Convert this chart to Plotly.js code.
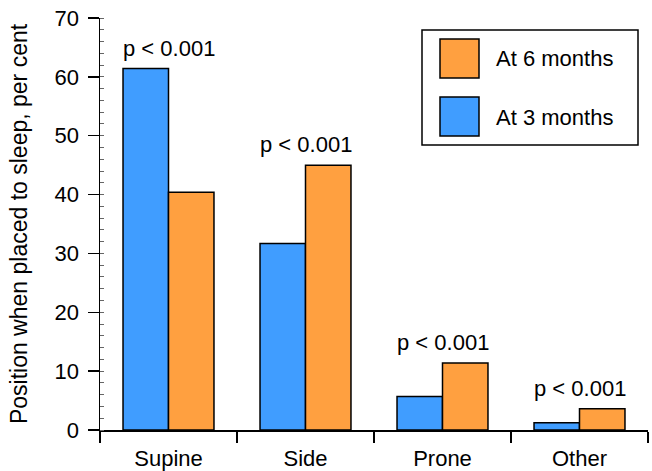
<!DOCTYPE html>
<html>
<head>
<meta charset="utf-8">
<script src="https://cdn.plot.ly/plotly-3.0.1.min.js"></script>
<style>html,body{margin:0;padding:0;background:#fff;}#chart{width:652px;height:471px;}</style>
</head>
<body>
<div id="chart"></div>
<script>
const categories = ["Supine", "Side", "Prone", "Other"];
const at3Months = [61.4, 31.7, 5.7, 1.25];
const at6Months = [40.4, 45.0, 11.4, 3.6];
const pLabels = ["p < 0.001", "p < 0.001", "p < 0.001", "p < 0.001"];
const seriesNames = ["At 3 months", "At 6 months"];
const yTicks = [0, 10, 20, 30, 40, 50, 60, 70];

const BLUE = "rgb(64,157,255)";
const ORANGE = "rgb(255,160,64)";
const FONT = "Liberation Sans, Arial, sans-serif";

const traces = [
  {type: "bar", name: seriesNames[0], x: categories, y: at3Months,
   marker: {color: BLUE, line: {color: "#000", width: 1.5}}, showlegend: false},
  {type: "bar", name: seriesNames[1], x: categories, y: at6Months,
   marker: {color: ORANGE, line: {color: "#000", width: 1.5}}, showlegend: false}
];

const annotations = categories.map((c, i) => ({
  x: c, y: Math.max(at3Months[i], at6Months[i]), xref: "x", yref: "y",
  text: pLabels[i], showarrow: false, yanchor: "bottom", yshift: 6,
  font: {family: FONT, size: 22, color: "#000"}
}));

// manual legend (paper coordinates)
const legendItems = [
  {name: seriesNames[1], color: ORANGE},
  {name: seriesNames[0], color: BLUE}
];
const shapes = [{
  type: "rect", xref: "paper", yref: "paper",
  x0: (422 - 100) / 548, x1: (638 - 100) / 548,
  y0: (430 - 145) / 412, y1: (430 - 30) / 412,
  line: {color: "#000", width: 1.5}, fillcolor: "rgba(0,0,0,0)"
}];
legendItems.forEach((it, k) => {
  const top = 39 + k * 58;
  shapes.push({
    type: "rect", xref: "paper", yref: "paper",
    x0: (440 - 100) / 548, x1: (479 - 100) / 548,
    y0: (430 - (top + 39)) / 412, y1: (430 - top) / 412,
    line: {color: "#000", width: 1.5}, fillcolor: it.color
  });
  annotations.push({
    xref: "paper", yref: "paper", x: (494 - 100) / 548, y: (430 - (top + 20)) / 412,
    xanchor: "left", yanchor: "middle", showarrow: false, text: it.name,
    font: {family: FONT, size: 22, color: "#000"}
  });
});

const layout = {
  width: 652, height: 471,
  margin: {l: 100, r: 4, t: 18, b: 41, pad: 0},
  paper_bgcolor: "#fff", plot_bgcolor: "#fff",
  font: {family: FONT, size: 22, color: "#000"},
  barmode: "group", bargap: 0.336, bargroupgap: 0,
  xaxis: {
    type: "category", range: [-0.5, 3.5], showgrid: false, zeroline: false,
    showline: true, linecolor: "#000", linewidth: 1.5,
    ticks: "outside", tickson: "boundaries", ticklen: 11, tickwidth: 1.5, tickcolor: "#000",
    ticklabelstandoff: 8,
    tickfont: {family: FONT, size: 22, color: "#000"}
  },
  yaxis: {
    range: [0, 70], showgrid: false, zeroline: false,
    showline: true, linecolor: "#000", linewidth: 1.5,
    tickvals: yTicks, ticks: "outside", ticklen: 11, tickwidth: 1.5, tickcolor: "#000",
    ticklabelstandoff: 4,
    tickfont: {family: FONT, size: 22, color: "#000"},
    minor: {dtick: 2, ticks: "inside", ticklen: 4, tickwidth: 1, tickcolor: "#666", showgrid: false},
    title: {text: "Position when placed to sleep, per cent", font: {family: FONT, size: 23, color: "#000"}, standoff: 20}
  },
  annotations: annotations,
  shapes: shapes
};

Plotly.newPlot("chart", traces, layout, {displayModeBar: false, staticPlot: true});
</script>
</body>
</html>
